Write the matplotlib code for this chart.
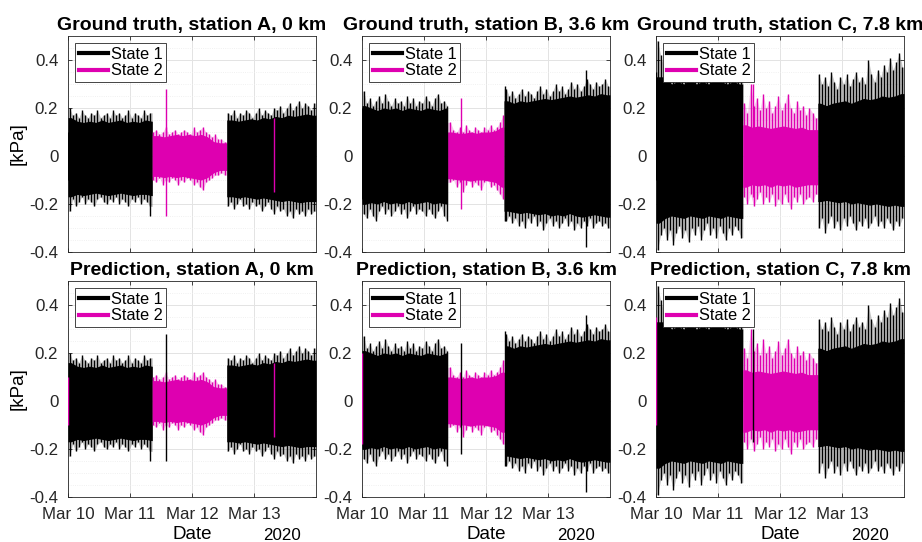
import numpy as np
import matplotlib.pyplot as plt
from matplotlib.lines import Line2D
from matplotlib.ticker import MultipleLocator

plt.rcParams['font.family'] = ['Liberation Sans', 'DejaVu Sans']
plt.rcParams['axes.unicode_minus'] = False

STATE_COLORS = {1: 'black', 2: '#DE00B0'}

stations = ['A', 'B', 'C']
distances = ['0', '3.6', '7.8']
day_ticks = [0, 1, 2, 3]
day_labels = ['Mar 10', 'Mar 11', 'Mar 12', 'Mar 13']
year_label = '2020'

# envelopes are sampled in days after Mar 10 00:00
peak_dt = 0.05   # max/min per bin (spikes)
core_dt = 0.1    # dense part of the signal

# state 2 interval (start, end) in days
gt_state2 = {'A': (1.36, 2.56), 'B': (1.38, 2.29), 'C': (1.40, 2.61)}
pred_state2 = {'A': (1.36, 2.56), 'B': (1.38, 2.31), 'C': (1.40, 2.61)}

# ---- station A ----
a_peak_hi = [0.20, 0.17, 0.18, 0.16, 0.19, 0.17, 0.16, 0.18, 0.17, 0.19,
             0.16, 0.17, 0.18, 0.16, 0.19, 0.17, 0.18, 0.16, 0.17, 0.19,
             0.16, 0.18, 0.17, 0.16, 0.19, 0.17, 0.18,
             0.10, 0.11, 0.09, 0.10, 0.12, 0.09, 0.10, 0.11, 0.09, 0.10,
             0.11, 0.10, 0.09, 0.12, 0.10, 0.11, 0.12, 0.10, 0.09, 0.08,
             0.09, 0.07, 0.07, 0.06,
             0.18, 0.17, 0.19, 0.16, 0.18, 0.17, 0.19, 0.18, 0.16, 0.18,
             0.20, 0.17, 0.19, 0.18, 0.17, 0.20, 0.19, 0.21, 0.18, 0.20,
             0.22, 0.19, 0.21, 0.23, 0.20, 0.22, 0.21, 0.19, 0.22]
a_peak_lo = [-0.23, -0.18, -0.21, -0.19, -0.17, -0.20, -0.18, -0.19, -0.21, -0.18,
             -0.17, -0.19, -0.20, -0.18, -0.19, -0.17, -0.20, -0.18, -0.19, -0.21,
             -0.18, -0.19, -0.17, -0.20, -0.18, -0.19, -0.21,
             -0.10, -0.11, -0.09, -0.12, -0.10, -0.11, -0.09, -0.10, -0.12, -0.10,
             -0.11, -0.09, -0.10, -0.12, -0.11, -0.13, -0.14, -0.11, -0.10, -0.09,
             -0.08, -0.08, -0.07, -0.08,
             -0.21, -0.19, -0.22, -0.20, -0.18, -0.21, -0.20, -0.22, -0.19, -0.21,
             -0.20, -0.23, -0.21, -0.19, -0.22, -0.24, -0.21, -0.23, -0.22, -0.25,
             -0.23, -0.26, -0.22, -0.24, -0.23, -0.25, -0.22, -0.24, -0.23]
a_core_hi = [0.16, 0.145, 0.14, 0.145, 0.14, 0.15, 0.14, 0.145, 0.15, 0.14,
             0.145, 0.14, 0.15, 0.145,
             0.085, 0.08, 0.085, 0.09, 0.085, 0.09, 0.085, 0.09, 0.08, 0.06,
             0.055, 0.055,
             0.15, 0.145, 0.15, 0.155, 0.15, 0.16, 0.155, 0.165, 0.16, 0.17,
             0.165, 0.17, 0.175, 0.17]
a_core_lo = [-0.17, -0.16, -0.165, -0.16, -0.155, -0.16, -0.165, -0.16, -0.155, -0.16,
             -0.165, -0.16, -0.16, -0.165,
             -0.085, -0.09, -0.085, -0.09, -0.085, -0.09, -0.095, -0.10, -0.09, -0.07,
             -0.06, -0.06,
             -0.17, -0.175, -0.17, -0.175, -0.18, -0.175, -0.18, -0.185, -0.19, -0.185,
             -0.19, -0.195, -0.19, -0.19]
a_spike_t = [0.005, 1.32, 1.58, 3.32]
a_spike_hi = [0.10, 0.10, 0.28, 0.16]
a_spike_lo = [-0.10, -0.25, -0.25, -0.15]
a_spike_gt = [1, 1, 2, 2]
a_spike_pred = [2, 1, 1, 2]

# ---- station B ----
b_peak_hi = [0.27, 0.22, 0.24, 0.21, 0.23, 0.25, 0.22, 0.26, 0.23, 0.21,
             0.24, 0.22, 0.23, 0.21, 0.25, 0.22, 0.24, 0.21, 0.23, 0.22,
             0.25, 0.23, 0.21, 0.24, 0.26, 0.22, 0.23, 0.21,
             0.14, 0.11, 0.10, 0.12, 0.10, 0.13, 0.11, 0.10, 0.12, 0.11,
             0.10, 0.12, 0.11, 0.13, 0.11, 0.12, 0.14, 0.17,
             0.28, 0.25, 0.27, 0.24, 0.26, 0.28, 0.25, 0.27, 0.26, 0.24,
             0.27, 0.29, 0.26, 0.28, 0.25, 0.27, 0.30, 0.27, 0.29, 0.26,
             0.28, 0.31, 0.28, 0.30, 0.27, 0.29, 0.32, 0.30, 0.28, 0.31,
             0.29, 0.30, 0.32, 0.29]
b_peak_lo = [-0.24, -0.26, -0.22, -0.25, -0.27, -0.23, -0.21, -0.24, -0.22, -0.25,
             -0.23, -0.21, -0.24, -0.22, -0.26, -0.23, -0.21, -0.24, -0.22, -0.23,
             -0.25, -0.22, -0.24, -0.26, -0.23, -0.21, -0.25, -0.27,
             -0.11, -0.10, -0.13, -0.11, -0.15, -0.12, -0.10, -0.13, -0.11, -0.12,
             -0.14, -0.11, -0.10, -0.13, -0.12, -0.14, -0.16, -0.18,
             -0.27, -0.25, -0.28, -0.26, -0.29, -0.27, -0.30, -0.26, -0.28, -0.25,
             -0.29, -0.27, -0.31, -0.28, -0.26, -0.29, -0.27, -0.30, -0.28, -0.26,
             -0.29, -0.27, -0.31, -0.28, -0.30, -0.27, -0.29, -0.26, -0.30, -0.28,
             -0.27, -0.29, -0.28, -0.30]
b_core_hi = [0.21, 0.20, 0.19, 0.20, 0.195, 0.20, 0.19, 0.20, 0.195, 0.19,
             0.20, 0.195, 0.19, 0.20,
             0.10, 0.095, 0.095, 0.10, 0.095, 0.10, 0.10, 0.105, 0.12,
             0.23, 0.22, 0.23, 0.225, 0.23, 0.235, 0.24, 0.235, 0.24, 0.245,
             0.25, 0.245, 0.25, 0.255, 0.25, 0.26, 0.255]
b_core_lo = [-0.20, -0.195, -0.20, -0.19, -0.20, -0.195, -0.20, -0.19, -0.20, -0.195,
             -0.19, -0.20, -0.195, -0.20,
             -0.095, -0.10, -0.10, -0.105, -0.10, -0.10, -0.105, -0.11, -0.13,
             -0.23, -0.235, -0.24, -0.235, -0.24, -0.245, -0.24, -0.25, -0.245, -0.25,
             -0.24, -0.25, -0.255, -0.25, -0.245, -0.25, -0.255]
b_spike_t = [0.005, 1.59, 2.31, 3.62]
b_spike_hi = [0.20, 0.24, 0.29, 0.36]
b_spike_lo = [-0.18, -0.22, -0.27, -0.38]
b_spike_gt = [1, 2, 1, 1]
b_spike_pred = [2, 1, 1, 1]

# ---- station C ----
c_peak_hi = [0.48, 0.42, 0.37, 0.39, 0.35, 0.38, 0.36, 0.40, 0.35, 0.37,
             0.39, 0.36, 0.34, 0.38, 0.36, 0.39, 0.35, 0.37, 0.36, 0.38,
             0.34, 0.37, 0.39, 0.35, 0.36, 0.38, 0.35, 0.37,
             0.22, 0.18, 0.30, 0.21, 0.24, 0.19, 0.26, 0.20, 0.23, 0.18,
             0.21, 0.25, 0.19, 0.22, 0.26, 0.20, 0.18, 0.23, 0.19, 0.21,
             0.17, 0.20, 0.18, 0.16,
             0.34, 0.30, 0.33, 0.29, 0.35, 0.31, 0.28, 0.33, 0.30, 0.34,
             0.29, 0.32, 0.35, 0.31, 0.33, 0.30, 0.40, 0.34, 0.31, 0.36,
             0.33, 0.38, 0.35, 0.41, 0.36, 0.39, 0.43, 0.37]
c_peak_lo = [-0.39, -0.33, -0.30, -0.35, -0.31, -0.37, -0.32, -0.29, -0.34, -0.31,
             -0.36, -0.30, -0.33, -0.29, -0.35, -0.31, -0.28, -0.33, -0.30, -0.34,
             -0.29, -0.32, -0.35, -0.30, -0.33, -0.29, -0.31, -0.34,
             -0.17, -0.20, -0.16, -0.21, -0.18, -0.15, -0.20, -0.17, -0.19, -0.16,
             -0.21, -0.18, -0.20, -0.16, -0.19, -0.22, -0.17, -0.19, -0.16, -0.20,
             -0.18, -0.17, -0.19, -0.16,
             -0.30, -0.26, -0.32, -0.28, -0.25, -0.30, -0.27, -0.31, -0.26, -0.29,
             -0.25, -0.28, -0.31, -0.27, -0.29, -0.26, -0.30, -0.28, -0.25, -0.29,
             -0.27, -0.30, -0.26, -0.28, -0.31, -0.27, -0.29, -0.26]
c_core_hi = [0.33, 0.33, 0.30, 0.31, 0.30, 0.32, 0.30, 0.31, 0.30, 0.32,
             0.31, 0.30, 0.31, 0.30,
             0.13, 0.12, 0.125, 0.12, 0.115, 0.12, 0.125, 0.12, 0.115, 0.12,
             0.11, 0.11,
             0.22, 0.21, 0.22, 0.225, 0.23, 0.22, 0.23, 0.24, 0.235, 0.24,
             0.25, 0.245, 0.25, 0.26]
c_core_lo = [-0.28, -0.26, -0.25, -0.255, -0.26, -0.25, -0.255, -0.26, -0.25, -0.255,
             -0.26, -0.25, -0.255, -0.26,
             -0.13, -0.12, -0.125, -0.12, -0.13, -0.12, -0.125, -0.12, -0.13, -0.125,
             -0.12, -0.12,
             -0.19, -0.185, -0.19, -0.195, -0.19, -0.20, -0.195, -0.20, -0.205, -0.20,
             -0.205, -0.21, -0.205, -0.21]
c_spike_t = [0.005, 1.57]
c_spike_hi = [0.35, 0.30]
c_spike_lo = [-0.10, -0.17]
c_spike_gt = [1, 2]
c_spike_pred = [2, 1]

signals = {
    'A': (a_peak_hi, a_peak_lo, a_core_hi, a_core_lo, a_spike_t, a_spike_hi, a_spike_lo),
    'B': (b_peak_hi, b_peak_lo, b_core_hi, b_core_lo, b_spike_t, b_spike_hi, b_spike_lo),
    'C': (c_peak_hi, c_peak_lo, c_core_hi, c_core_lo, c_spike_t, c_spike_hi, c_spike_lo),
}
spike_states = {
    'gt': {'A': a_spike_gt, 'B': b_spike_gt, 'C': c_spike_gt},
    'pred': {'A': a_spike_pred, 'B': b_spike_pred, 'C': c_spike_pred},
}


def segment_band(t, hi, lo, a, b):
    # points of one state segment, held flat out to the segment edges
    m = (t >= a) & (t < b)
    x = np.concatenate([[a], t[m], [b]])
    yh = np.concatenate([[hi[m][0]], hi[m], [hi[m][-1]]])
    yl = np.concatenate([[lo[m][0]], lo[m], [lo[m][-1]]])
    return x, yl, yh


def draw_signal(ax, st, interval, sp_states):
    peak_hi, peak_lo, core_hi, core_lo, sp_t, sp_hi, sp_lo = [np.asarray(v) for v in signals[st]]
    tc = np.arange(len(core_hi)) * core_dt + core_dt / 2
    tp = np.arange(len(peak_hi)) * peak_dt + peak_dt / 2
    s, e = interval
    for a, b, state in [(0.0, s, 1), (s, e, 2), (e, 4.0, 1)]:
        col = STATE_COLORS[state]
        # faint haze behind the spike tips
        x, yl, yh = segment_band(tp, peak_hi, peak_lo, a, b)
        ax.fill_between(x, yl, yh, color=col, alpha=0.22, lw=0, zorder=2)
        # dense part
        x, yl, yh = segment_band(tc, core_hi, core_lo, a, b)
        ax.fill_between(x, yl, yh, color=col, lw=0, zorder=3)
    # spiky fringe
    st_p = np.where((tp >= s) & (tp < e), 2, 1)
    for state in (1, 2):
        m = st_p == state
        ax.vlines(tp[m], peak_lo[m], peak_hi[m], color=STATE_COLORS[state],
                  lw=1.0, zorder=3)
    # single events
    for t, h, l, state in zip(sp_t, sp_hi, sp_lo, sp_states):
        ax.vlines(t, l, h, color=STATE_COLORS[state], lw=1.0, zorder=4)


fig = plt.figure(figsize=(9.22, 5.42), dpi=100)
W, H = 922, 542
lefts = [68, 362, 656]
ax_w, ax_h = 248, 216
tops = [36, 281]

rows = [('Ground truth', gt_state2, 'gt'), ('Prediction', pred_state2, 'pred')]
for r, (name, intervals, key) in enumerate(rows):
    for c, st in enumerate(stations):
        ax = fig.add_axes([lefts[c] / W, 1 - (tops[r] + ax_h) / H, ax_w / W, ax_h / H])
        draw_signal(ax, st, intervals[st], spike_states[key][st])

        ax.set_xlim(0, 4)
        ax.set_ylim(-0.4, 0.5)
        ax.set_xticks(day_ticks)
        ax.set_yticks([-0.4, -0.2, 0, 0.2, 0.4])
        ax.set_yticklabels(['-0.4', '-0.2', '0', '0.2', '0.4'])
        ax.yaxis.set_minor_locator(MultipleLocator(0.05))
        ax.grid(True, which='major', color='#e3e3e3', lw=0.7, zorder=0)
        ax.grid(True, which='minor', axis='y', color='#ececec', lw=0.6, ls=':', zorder=0)
        ax.set_axisbelow(True)
        ax.tick_params(which='major', direction='in', length=3, width=0.6,
                       top=True, right=True, labelsize=12.2, colors='#262626', pad=7)
        ax.tick_params(which='minor', length=0)
        for sp in ax.spines.values():
            sp.set_color('#262626')
            sp.set_linewidth(0.6)

        if r == 1:
            ax.set_xticklabels(day_labels)
            ax.set_xlabel('Date', fontsize=13.5, labelpad=3)
            ax.text(0.94, -0.176, year_label, transform=ax.transAxes, ha='right',
                    va='center', fontsize=12.2)
        else:
            ax.set_xticklabels([])
        if c == 0:
            ax.set_ylabel('[kPa]', fontsize=13.5, labelpad=2)

        ax.set_title(f'{name}, station {st}, {distances[c]} km', fontsize=14.0,
                     fontweight='bold', pad=4)

        handles = [Line2D([], [], color=STATE_COLORS[1], lw=3),
                   Line2D([], [], color=STATE_COLORS[2], lw=3)]
        leg = ax.legend(handles, ['State 1', 'State 2'], loc='upper left',
                        fontsize=11.8, frameon=True, fancybox=False, framealpha=1,
                        edgecolor='#262626', borderpad=0.2, labelspacing=0.1,
                        handlelength=1.8, handletextpad=0.15, borderaxespad=0.45)
        leg.get_frame().set_linewidth(0.6)
        leg.set_zorder(10)

fig.savefig('out.png', dpi=100)
